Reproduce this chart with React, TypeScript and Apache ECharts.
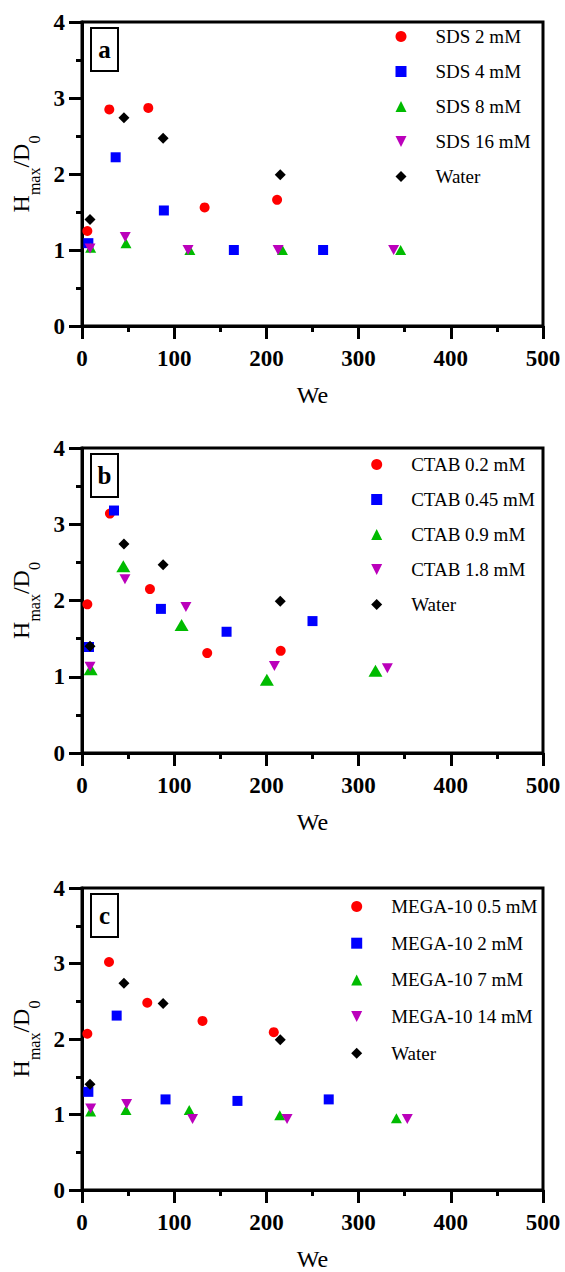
import React, { useEffect, useRef } from "react";
import * as echarts from "echarts";

// ---------- data (We, Hmax/D0) ----------
const waterWe = [8.7, 45.5, 88, 215];
const waterH = [1.4, 2.74, 2.47, 1.99];

// panel a: SDS
const sds2We = [5.8, 29.6, 71.9, 133, 211.6];
const sds2H = [1.25, 2.85, 2.87, 1.56, 1.66];
const sds4We = [6.9, 36.5, 88.8, 164.7, 261.5];
const sds4H = [1.09, 2.22, 1.52, 1.0, 1.0];
const sds8We = [9.4, 47.7, 117, 217.4, 345.6];
const sds8H = [1.03, 1.09, 1.0, 1.0, 1.0];
const sds16We = [8.7, 46.9, 115, 212.7, 338];
const sds16H = [1.02, 1.17, 1.0, 1.0, 1.0];

// panel b: CTAB
const ctab02We = [5.8, 30.3, 73.7, 135.8, 215.5];
const ctab02H = [1.95, 3.14, 2.15, 1.31, 1.34];
const ctab045We = [7.6, 34.7, 85.6, 156.8, 250];
const ctab045H = [1.39, 3.18, 1.89, 1.59, 1.73];
const ctab09We = [9.4, 44.8, 108, 200.5, 318.3];
const ctab09H = [1.1, 2.45, 1.68, 0.96, 1.08];
const ctab18We = [8.7, 46.6, 112.7, 208.7, 331.2];
const ctab18H = [1.13, 2.28, 1.915, 1.14, 1.11];

// panel c: MEGA-10
const mega05We = [5.8, 29.3, 70.8, 130.7, 208];
const mega05H = [2.07, 3.02, 2.48, 2.24, 2.09];
const mega2We = [6.9, 37.6, 90.6, 168.6, 267.6];
const mega2H = [1.3, 2.31, 1.2, 1.18, 1.2];
const mega7We = [9.4, 47.7, 116.3, 214.5, 341];
const mega7H = [1.04, 1.06, 1.06, 0.99, 0.95];
const mega14We = [9.4, 48.4, 119.9, 222.4, 352.8];
const mega14H = [1.08, 1.14, 0.94, 0.94, 0.94];

const panelLetters = ["a", "b", "c"];
const sdsNames = ["SDS 2 mM", "SDS 4 mM", "SDS 8 mM", "SDS 16 mM", "Water"];
const ctabNames = ["CTAB 0.2 mM", "CTAB 0.45 mM", "CTAB 0.9 mM", "CTAB 1.8 mM", "Water"];
const megaNames = ["MEGA-10 0.5 mM", "MEGA-10 2 mM", "MEGA-10 7 mM", "MEGA-10 14 mM", "Water"];

// ---------- styling ----------
const FONT = "Liberation Serif, Times New Roman, serif";
const RED = "#ff0000";
const BLUE = "#0000ff";
const GREEN = "#00bb00";
const MAGENTA = "#bb00bb";
const BLACK = "#000000";
const DOWN_TRI = "path://M0,0L10,0L5,10Z";

const grids = [
  { left: 82, top: 22, width: 461, height: 304 },
  { left: 82, top: 448, width: 461, height: 305 },
  { left: 82, top: 888, width: 461, height: 304 },
];
const legendPos = [
  { left: 395.5, top: 27 },
  { left: 371.2, top: 455 },
  { left: 351.2, top: 897 },
];
const legendGaps = [16, 16, 17.7];

function pairs(xs: number[], ys: number[]) {
  return xs.map((x, i) => [x, ys[i]]);
}

type Spec = { name: string; we: number[]; h: number[]; color: string; symbol: string; size: any };

const panels: Spec[][] = [
  [
    { name: sdsNames[0], we: sds2We, h: sds2H, color: RED, symbol: "circle", size: 10 },
    { name: sdsNames[1], we: sds4We, h: sds4H, color: BLUE, symbol: "rect", size: 10 },
    { name: sdsNames[2], we: sds8We, h: sds8H, color: GREEN, symbol: "triangle", size: [11, 10] },
    { name: sdsNames[3], we: sds16We, h: sds16H, color: MAGENTA, symbol: DOWN_TRI, size: [11, 10] },
    { name: sdsNames[4], we: waterWe, h: waterH, color: BLACK, symbol: "diamond", size: 11 },
  ],
  [
    { name: ctabNames[0], we: ctab02We, h: ctab02H, color: RED, symbol: "circle", size: 10 },
    { name: ctabNames[1], we: ctab045We, h: ctab045H, color: BLUE, symbol: "rect", size: 10 },
    { name: ctabNames[2], we: ctab09We, h: ctab09H, color: GREEN, symbol: "triangle", size: [14, 12] },
    { name: ctabNames[3], we: ctab18We, h: ctab18H, color: MAGENTA, symbol: DOWN_TRI, size: [11, 10] },
    { name: ctabNames[4], we: waterWe, h: waterH, color: BLACK, symbol: "diamond", size: 11 },
  ],
  [
    { name: megaNames[0], we: mega05We, h: mega05H, color: RED, symbol: "circle", size: 10 },
    { name: megaNames[1], we: mega2We, h: mega2H, color: BLUE, symbol: "rect", size: 10 },
    { name: megaNames[2], we: mega7We, h: mega7H, color: GREEN, symbol: "triangle", size: [11, 10] },
    { name: megaNames[3], we: mega14We, h: mega14H, color: MAGENTA, symbol: DOWN_TRI, size: [11, 10] },
    { name: megaNames[4], we: waterWe, h: waterH, color: BLACK, symbol: "diamond", size: 11 },
  ],
];
const legendNames = [sdsNames, ctabNames, megaNames];

function buildOption() {
  const lineStyle = { color: BLACK, width: 3 };
  const labelStyle = { color: BLACK, fontSize: 23, fontWeight: "bold", fontFamily: FONT };
  const xAxes = grids.map((_, i) => ({
    gridIndex: i,
    type: "value",
    min: 0,
    max: 500,
    interval: 100,
    axisLine: { show: true, onZero: false, lineStyle },
    axisTick: { show: true, length: 13, lineStyle },
    minorTick: { show: true, splitNumber: 2, length: 6, lineStyle: { color: BLACK, width: 3 } },
    splitLine: { show: false },
    axisLabel: { ...labelStyle, margin: 21 },
    name: "{n|We}",
    nameLocation: "middle",
    nameGap: 57,
    nameTextStyle: {
      color: BLACK,
      fontSize: 24,
      fontFamily: FONT,
      fontWeight: "normal",
      rich: { n: { fontSize: 24, fontFamily: FONT, color: BLACK, fontWeight: "normal" } },
    },
  }));
  const yAxes = grids.map((_, i) => ({
    gridIndex: i,
    type: "value",
    min: 0,
    max: 4,
    interval: 1,
    axisLine: { show: true, onZero: false, lineStyle },
    axisTick: { show: true, length: 13, lineStyle },
    minorTick: { show: true, splitNumber: 2, length: 6, lineStyle: { color: BLACK, width: 3 } },
    splitLine: { show: false },
    axisLabel: { ...labelStyle, margin: 17 },
    name: "{n|H}{s|max}{n|/D}{s|0}",
    nameLocation: "middle",
    nameGap: 40,
    nameTextStyle: {
      color: BLACK,
      fontSize: 24,
      fontFamily: FONT,
      fontWeight: "normal",
      rich: {
        n: { fontSize: 24, fontFamily: FONT, color: BLACK, lineHeight: 24, fontWeight: "normal" },
        s: { fontSize: 16, fontFamily: FONT, color: BLACK, lineHeight: 16, fontWeight: "normal", verticalAlign: "top", padding: [18, 0, 0, 0] },
      },
    },
  }));

  const series: any[] = [];
  panels.forEach((specs, gi) => {
    specs.forEach((s) => {
      series.push({
        type: "scatter",
        name: s.name,
        xAxisIndex: gi,
        yAxisIndex: gi,
        symbol: s.symbol,
        symbolSize: s.size,
        itemStyle: { color: s.color, opacity: 1 },
        data: pairs(s.we, s.h),
      });
    });
  });

  const legends = legendNames.map((names, i) => ({
    data: names,
    orient: "vertical",
    left: legendPos[i].left,
    top: legendPos[i].top,
    padding: 0,
    itemWidth: 11,
    itemHeight: 11,
    itemGap: legendGaps[i],
    selectedMode: false,
    textStyle: { color: BLACK, fontSize: 19, fontFamily: FONT, padding: [0, 0, 0, 24] },
  }));

  const graphics: any[] = [];
  grids.forEach((g, i) => {
    const top = g.top + 6;
    graphics.push({
      type: "rect",
      shape: { x: 91, y: top, width: 27, height: 43 },
      style: { fill: "transparent", stroke: BLACK, lineWidth: 2 },
    });
    graphics.push({
      type: "text",
      x: 104.5,
      y: top + 21.5,
      style: {
        text: panelLetters[i],
        fontSize: 25,
        fontWeight: "bold",
        fontFamily: FONT,
        fill: BLACK,
        align: "center",
        verticalAlign: "middle",
      },
    });
  });

  return {
    animation: false,
    backgroundColor: "#ffffff",
    textStyle: { fontFamily: FONT, color: BLACK },
    grid: grids.map((g) => ({ ...g, show: true, borderColor: BLACK, borderWidth: 3, backgroundColor: "transparent", containLabel: false })),
    xAxis: xAxes,
    yAxis: yAxes,
    legend: legends,
    series,
    graphic: { elements: graphics },
  };
}

export default function App() {
  const ref = useRef<HTMLDivElement>(null);
  useEffect(() => {
    if (!ref.current) return;
    const chart = echarts.init(ref.current, undefined, { renderer: "svg" });
    chart.setOption(buildOption() as any);
    return () => chart.dispose();
  }, []);
  return <div ref={ref} style={{ position: "absolute", left: 0, top: 0, width: 565, height: 1272 }} />;
}
